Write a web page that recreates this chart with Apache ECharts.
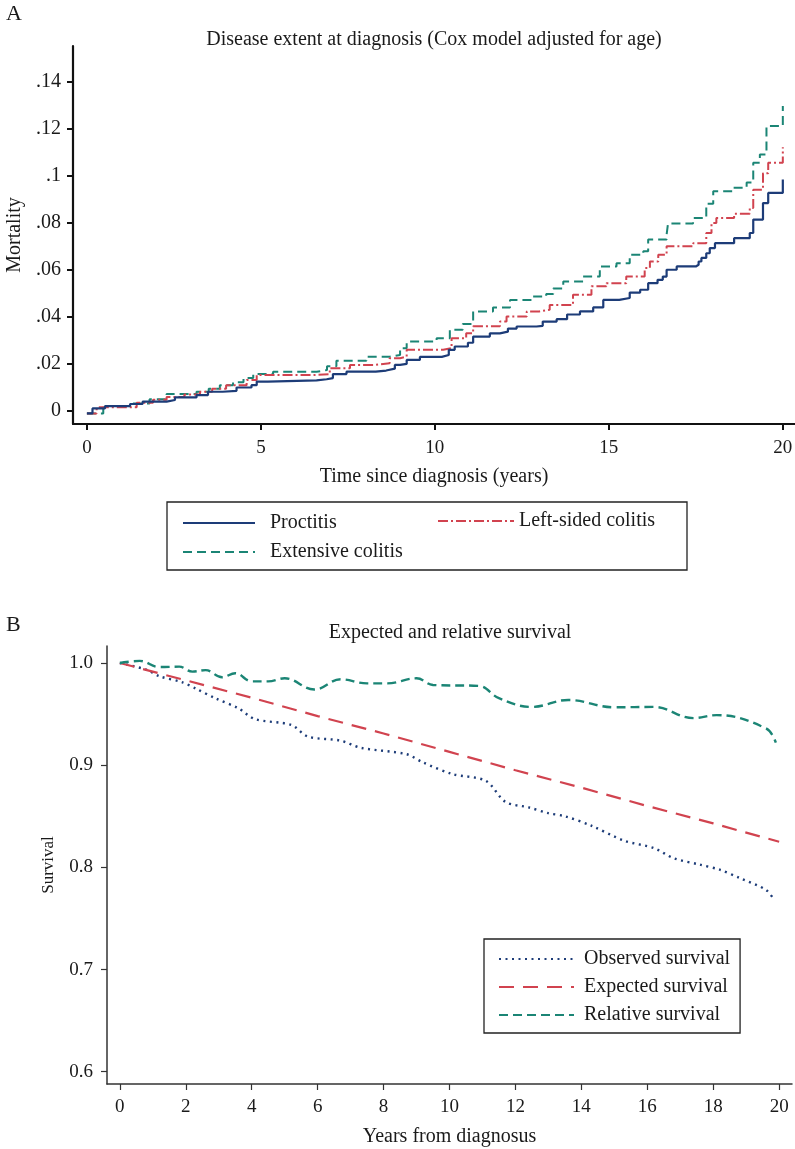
<!DOCTYPE html>
<html>
<head>
<meta charset="utf-8">
<script src="https://cdn.jsdelivr.net/npm/echarts@6/dist/echarts.min.js"></script>
<style>
html,body{margin:0;padding:0;background:#fff;}
#chart{width:795px;height:1149px;}
</style>
</head>
<body>
<div id="chart"></div>
<script>
// ---------- Panel A: cumulative mortality (step functions) ----------
const seriesNamesA = ['Proctitis', 'Left-sided colitis', 'Extensive colitis'];
const procTime = [0,0.16,0.52,1.24,1.6,2.29,2.53,3.15,3.48,3.9,4.3,4.73,4.88,5.2,6.6,6.89,7.07,7.46,8.3,8.6,8.85,9.0,9.19,9.57,10.2,10.4,10.57,10.95,11.1,11.58,11.87,12.1,12.35,12.92,13.1,13.5,13.8,14.17,14.55,14.84,15.3,15.6,15.9,16.13,16.4,16.55,16.66,16.95,17.5,17.58,17.66,17.8,17.9,18.05,18.6,19.05,19.15,19.43,19.58,20.0];
const procMort = [-0.001,0.0011,0.0021,0.003,0.004,0.0047,0.0058,0.0068,0.0082,0.0086,0.010,0.011,0.0125,0.013,0.0135,0.014,0.0157,0.0167,0.0172,0.018,0.0196,0.020,0.0217,0.023,0.0238,0.026,0.0274,0.029,0.0316,0.033,0.0337,0.035,0.0359,0.0362,0.038,0.039,0.041,0.0423,0.044,0.0472,0.048,0.0503,0.0515,0.0543,0.0557,0.0571,0.060,0.0614,0.0621,0.0635,0.065,0.067,0.0692,0.0713,0.0734,0.0756,0.0813,0.0883,0.0926,0.0983];
const leftTime = [0,0.28,1.43,1.9,2.29,2.8,3.25,3.6,4.0,4.59,4.88,6.5,6.98,7.56,8.3,8.7,9.0,9.19,10.24,10.48,10.9,11.1,11.87,12.06,12.64,13.0,13.3,13.97,14.5,14.93,15.5,16.03,16.18,16.42,16.66,17.42,17.8,17.95,18.09,18.6,19.05,19.15,19.43,19.58,20.0];
const leftMort = [-0.001,0.0016,0.0035,0.0048,0.006,0.007,0.0082,0.0095,0.011,0.0132,0.0153,0.0156,0.0182,0.0196,0.0203,0.0224,0.0231,0.026,0.0267,0.0309,0.033,0.036,0.038,0.0401,0.0423,0.043,0.045,0.0494,0.053,0.0543,0.0571,0.0607,0.0635,0.0664,0.070,0.0713,0.0756,0.0798,0.082,0.0838,0.0862,0.094,0.101,0.1054,0.112];
const extTime = [0,0.47,1.33,1.8,2.29,3.15,3.5,3.82,4.2,4.5,4.78,5.35,6.6,6.9,7.17,8.03,8.7,9.0,9.19,10.05,10.43,10.8,11.1,11.67,12.16,12.82,13.2,13.4,13.69,14.26,14.74,15.22,15.6,15.99,16.13,16.66,16.7,17.42,17.8,18.0,18.57,18.96,19.15,19.34,19.53,20.0];
const extMort = [-0.001,0.0021,0.0032,0.005,0.0072,0.0082,0.0095,0.011,0.0122,0.014,0.0157,0.0167,0.0174,0.019,0.0214,0.0231,0.0238,0.0267,0.0295,0.0309,0.0345,0.037,0.0423,0.044,0.0472,0.0486,0.0497,0.052,0.055,0.0571,0.0614,0.0628,0.0664,0.0678,0.0728,0.0749,0.0796,0.082,0.088,0.0933,0.0948,0.097,0.1054,0.1089,0.121,0.1295];
const topXTicks = [0,5,10,15,20];
const topYTicks = [0,0.02,0.04,0.06,0.08,0.10,0.12,0.14];

// ---------- Panel B: survival ----------
const seriesNamesB = ['Observed survival', 'Expected survival', 'Relative survival'];
const obsTime = [0,0.8,1.2,1.9,2.3,2.9,3.6,4.1,5.2,5.7,6.7,7.3,8.7,9.2,10.1,11.1,11.7,12.4,13.0,13.5,14.3,15.3,16.2,16.8,17.6,18.2,18.8,19.6,19.85];
const obsSurv = [1.0,0.9935,0.987,0.981,0.975,0.9654,0.9556,0.945,0.9394,0.928,0.924,0.917,0.9107,0.9026,0.8912,0.8847,0.864,0.8587,0.853,0.850,0.8408,0.8261,0.8189,0.809,0.8026,0.7977,0.7896,0.778,0.768];
const expTime = [0,2,4,6,8,10,12,14,16,18,20];
const expSurv = [1.0,0.983,0.966,0.948,0.931,0.913,0.895,0.878,0.860,0.843,0.825];
const relTime = [0,0.6,1.2,1.8,2.2,2.6,3.1,3.5,4.0,4.5,5.0,5.9,6.7,7.5,8.1,9.0,9.5,10.9,11.5,12.5,13.6,15.0,16.2,17.4,18.1,19.6,19.9];
const relSurv = [1.0,1.002,0.996,0.9964,0.9915,0.993,0.986,0.990,0.982,0.982,0.985,0.974,0.984,0.980,0.980,0.985,0.9785,0.9775,0.9655,0.957,0.9638,0.9566,0.957,0.946,0.949,0.936,0.922];
const botXTicks = [0,2,4,6,8,10,12,14,16,18,20];
const botYTicks = [0.6,0.7,0.8,0.9,1.0];

const zip = (t, v) => t.map((x, i) => [x, v[i]]);

const FONT = '"Liberation Serif", "DejaVu Serif", serif';
const NAVY = '#1d3c78';
const RED = '#d1434f';
const TEAL = '#1b8575';
const INK = '#1a1a1a';
const hideSym = {opacity: 0};

const chart = echarts.init(document.getElementById('chart'), null, {renderer: 'canvas'});

const option = {
  animation: false,
  backgroundColor: '#fff',
  textStyle: {fontFamily: FONT, color: INK},
  title: [
    {text: 'A', left: 6, top: 3, padding: 0, textStyle: {fontFamily: FONT, fontSize: 22, fontWeight: 'normal', color: INK}},
    {text: 'Disease extent at diagnosis (Cox model adjusted for age)', left: 434, top: 30, padding: 0, textAlign: 'center',
      textStyle: {fontFamily: FONT, fontSize: 20, fontWeight: 'normal', color: INK}},
    {text: 'B', left: 6, top: 614, padding: 0, textStyle: {fontFamily: FONT, fontSize: 22, fontWeight: 'normal', color: INK}},
    {text: 'Expected and relative survival', left: 450, top: 623, padding: 0, textAlign: 'center',
      textStyle: {fontFamily: FONT, fontSize: 20, fontWeight: 'normal', color: INK}}
  ],
  grid: [
    {left: 73, top: 46, width: 722, height: 378, containLabel: false, outerBoundsMode: 'none'},
    {left: 107, top: 646, width: 685, height: 438, containLabel: false, outerBoundsMode: 'none'}
  ],
  xAxis: [
    {
      gridIndex: 0, type: 'value', min: -0.4, max: 20.35,
      name: 'Time since diagnosis (years)', nameLocation: 'middle', nameGap: 43,
      nameTextStyle: {fontFamily: FONT, fontSize: 20, color: INK},
      axisLine: {show: true, onZero: false, lineStyle: {color: '#111', width: 2.2}},
      axisTick: {show: true, length: 6, customValues: topXTicks, lineStyle: {color: '#111', width: 2}},
      axisLabel: {customValues: topXTicks, fontFamily: FONT, fontSize: 19, color: INK, margin: 15},
      splitLine: {show: false}
    },
    {
      gridIndex: 1, type: 'value', min: -0.39, max: 20.39,
      name: 'Years from diagnosus', nameLocation: 'middle', nameGap: 43,
      nameTextStyle: {fontFamily: FONT, fontSize: 20, color: INK},
      axisLine: {show: true, onZero: false, lineStyle: {color: '#333', width: 1.5}},
      axisTick: {show: true, length: 6, customValues: botXTicks, lineStyle: {color: '#333', width: 1.2}},
      axisLabel: {customValues: botXTicks, fontFamily: FONT, fontSize: 19, color: INK, margin: 14},
      splitLine: {show: false}
    }
  ],
  yAxis: [
    {
      gridIndex: 0, type: 'value', min: -0.0055, max: 0.155,
      name: 'Mortality', nameLocation: 'middle', nameGap: 47, nameRotate: 90,
      nameTextStyle: {fontFamily: FONT, fontSize: 20, color: INK},
      axisLine: {show: true, onZero: false, lineStyle: {color: '#111', width: 2.2}},
      axisTick: {show: true, length: 6, customValues: topYTicks, lineStyle: {color: '#111', width: 2}},
      axisLabel: {customValues: topYTicks, fontFamily: FONT, fontSize: 20, color: INK, margin: 12,
        formatter: v => v === 0 ? '0' : String(Math.round(v * 100) / 100).replace(/^0\./, '.')},
      splitLine: {show: false}
    },
    {
      gridIndex: 1, type: 'value', min: 0.588, max: 1.0166,
      name: 'Survival', nameLocation: 'middle', nameGap: 50, nameRotate: 90,
      nameTextStyle: {fontFamily: FONT, fontSize: 17, color: INK},
      axisLine: {show: true, onZero: false, lineStyle: {color: '#333', width: 1.5}},
      axisTick: {show: true, length: 6, customValues: botYTicks, lineStyle: {color: '#333', width: 1.2}},
      axisLabel: {customValues: botYTicks, fontFamily: FONT, fontSize: 19, color: INK, margin: 14,
        formatter: v => v.toFixed(1)},
      splitLine: {show: false}
    }
  ],
  legend: [
    {data: [seriesNamesA[0]], left: 182, top: 513, padding: 0, itemWidth: 72, itemHeight: 14, itemStyle: hideSym,
      textStyle: {fontFamily: FONT, fontSize: 20, color: INK, padding: [0, 0, 0, 10]}},
    {data: [seriesNamesA[1]], left: 437, top: 511, padding: 0, itemWidth: 76, itemHeight: 14, itemStyle: hideSym,
      textStyle: {fontFamily: FONT, fontSize: 20, color: INK}},
    {data: [seriesNamesA[2]], left: 182, top: 542, padding: 0, itemWidth: 72, itemHeight: 14, itemStyle: hideSym,
      textStyle: {fontFamily: FONT, fontSize: 20, color: INK, padding: [0, 0, 0, 10]}},
    {data: seriesNamesB, orient: 'vertical', left: 484, top: 939, padding: [10, 10, 8, 14],
      itemWidth: 75, itemHeight: 14, itemGap: 8, itemStyle: hideSym,
      borderColor: '#222', borderWidth: 1.3,
      textStyle: {fontFamily: FONT, fontSize: 20, color: INK, padding: [0, 0, 0, 5]}}
  ],
  graphic: [
    {type: 'rect', shape: {x: 167, y: 502, width: 520, height: 68}, style: {fill: 'none', stroke: '#222', lineWidth: 1.3}, silent: true}
  ],
  series: [
    {name: seriesNamesA[2], type: 'line', xAxisIndex: 0, yAxisIndex: 0, step: 'end', symbol: 'none', showSymbol: false,
      data: zip(extTime, extMort), lineStyle: {color: TEAL, width: 2, type: [9, 5]}, itemStyle: {color: TEAL}, z: 2},
    {name: seriesNamesA[1], type: 'line', xAxisIndex: 0, yAxisIndex: 0, step: 'end', symbol: 'none', showSymbol: false,
      data: zip(leftTime, leftMort), lineStyle: {color: RED, width: 2, type: [10, 3, 2, 3]}, itemStyle: {color: RED}, z: 3},
    {name: seriesNamesA[0], type: 'line', xAxisIndex: 0, yAxisIndex: 0, step: 'end', symbol: 'none', showSymbol: false,
      data: zip(procTime, procMort), lineStyle: {color: NAVY, width: 2.2}, itemStyle: {color: NAVY}, z: 4},

    {name: seriesNamesB[0], type: 'line', xAxisIndex: 1, yAxisIndex: 1, smooth: 0.3, symbol: 'none', showSymbol: false,
      data: zip(obsTime, obsSurv), lineStyle: {color: NAVY, width: 2.4, type: [2, 4.5]}, itemStyle: {color: NAVY}},
    {name: seriesNamesB[1], type: 'line', xAxisIndex: 1, yAxisIndex: 1, symbol: 'none', showSymbol: false,
      data: zip(expTime, expSurv), lineStyle: {color: RED, width: 2.2, type: [15, 9]}, itemStyle: {color: RED}},
    {name: seriesNamesB[2], type: 'line', xAxisIndex: 1, yAxisIndex: 1, smooth: 0.4, symbol: 'none', showSymbol: false,
      data: zip(relTime, relSurv), lineStyle: {color: TEAL, width: 2.4, type: [9, 5]}, itemStyle: {color: TEAL}}
  ]
};

chart.setOption(option);
</script>
</body>
</html>
